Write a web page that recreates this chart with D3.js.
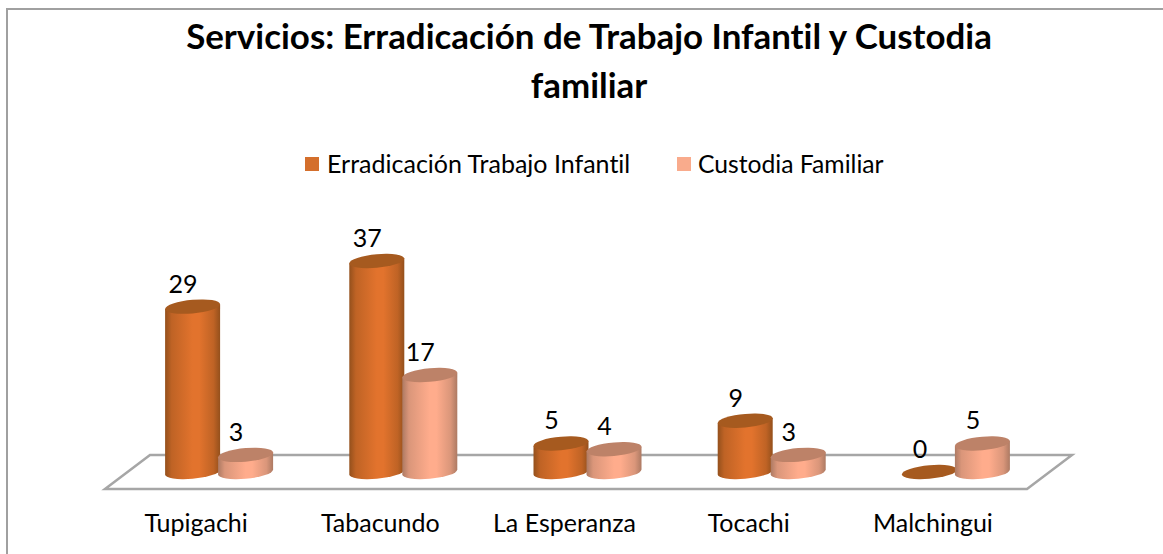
<!DOCTYPE html>
<html><head><meta charset="utf-8">
<script src="https://cdn.jsdelivr.net/npm/d3@7"></script>
<style>html,body{margin:0;padding:0;background:#fff}svg{display:block}text{font-family:Lato,"Open Sans",sans-serif;fill:#000;font-variant-ligatures:none}</style>
</head><body><svg id="c" width="1163" height="554"></svg>
<script>
const categories = ["Tupigachi","Tabacundo","La Esperanza","Tocachi","Malchingui"];
const seriesNames = ["Erradicación Trabajo Infantil","Custodia Familiar"];
const trabajoInfantil = [29,37,5,9,0];
const custodiaFamiliar = [3,17,4,3,5];
const seriesValues = [trabajoInfantil, custodiaFamiliar];
const titleLines = ["Servicios: Erradicación de Trabajo Infantil y Custodia","familiar"];

const svg = d3.select("#c");
const x0 = d3.scaleBand().domain(categories).range([127,1048]);
const x1 = d3.scaleBand().domain(d3.range(2)).range([-53,53]);
const y = d3.scaleLinear().domain([0,37]).range([472,261]);
const rx = 27.5, ry = 6.8, skew = -5;

const palette = [
 {edge:"#94501c",mid:"#e2732d",top:"#a65a1f",legend:"#d46f2c"},
 {edge:"#ad7a63",mid:"#ffac8c",top:"#bd8268",legend:"#f9ab8c"}
];
const defs = svg.append("defs");
palette.forEach((p,i)=>{
  const g = defs.append("linearGradient").attr("id","g"+i).attr("x1",0).attr("x2",1).attr("y1",0).attr("y2",0);
  [[0,p.edge],[.12,d3.interpolateRgb(p.edge,p.mid)(.55)],[.5,p.mid],[.62,p.mid],[.88,d3.interpolateRgb(p.edge,p.mid)(.55)],[1,p.edge]]
    .forEach(s=>g.append("stop").attr("offset",s[0]).attr("stop-color",s[1]));
});

svg.append("path").attr("d","M7,554V9H1163")
  .attr("fill","none").attr("stroke","#a0a0a0").attr("stroke-width",2);

svg.selectAll("text.title").data(titleLines).join("text").attr("class","title")
  .attr("x",589).attr("y",(d,i)=>49+i*49).attr("text-anchor","middle")
  .attr("font-size",34.9).attr("font-weight",700).text(d=>d);

// legend
const lg = svg.append("g");
[[305,327],[677,698]].forEach((p,i)=>{
  lg.append("rect").attr("x",p[0]).attr("y",157).attr("width",14).attr("height",14).attr("fill",palette[i].legend);
  lg.append("text").attr("x",p[1]).attr("y",173).attr("font-size",i?24.7:25).text(seriesNames[i]);
});

// floor
const zero = y(0);
svg.append("polygon")
  .attr("points",[[105,zero+17],[150,zero-17],[1072,zero-17],[1027,zero+17]].join(" "))
  .attr("fill","none").attr("stroke","#a6a6a6").attr("stroke-width",2.5);

// bars
categories.forEach((c,ci)=>{
  seriesValues.forEach((vals,si)=>{
    const v = vals[ci], cx = x0(c)+x0.bandwidth()/2 + x1(si) + x1.bandwidth()/2, ty = y(v), h = zero-ty;
    const g = svg.append("g").attr("transform",`translate(${cx},${ty}) skewY(${skew})`);
    if(h>0) g.append("path")
      .attr("d",`M${-rx},0 L${-rx},${h} A${rx},${ry} 0 0 0 ${rx},${h} L${rx},0 Z`)
      .attr("fill",`url(#g${si})`);
    g.append("ellipse").attr("rx",rx).attr("ry",ry).attr("fill",palette[si].top);
    svg.append("text").attr("x",cx-9.5).attr("y",ty-14).attr("text-anchor","middle")
      .attr("font-size",25).text(v);
  });
});

// category labels
svg.selectAll("text.cat").data(categories).join("text").attr("class","cat")
  .attr("x",d=>x0(d)+x0.bandwidth()/2-23).attr("y",532).attr("text-anchor","middle")
  .attr("font-size",25).text(d=>d);
</script></body></html>
